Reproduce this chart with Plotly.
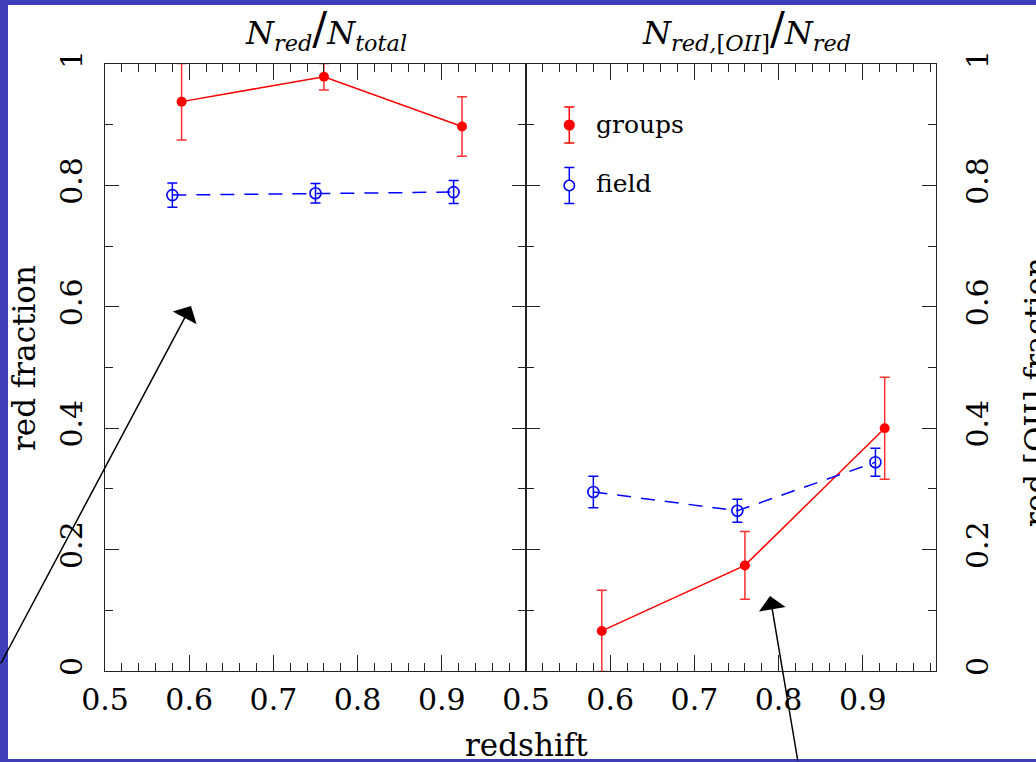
import plotly.graph_objects as go

# ---------------- data ----------------
series_names = ["groups", "field"]

# left panel: N_red / N_total
z_groups_left = [0.591, 0.760, 0.924]
frac_groups_left = [0.938, 0.979, 0.897]
err_groups_left = [0.063, 0.022, 0.049]
z_field_left = [0.580, 0.750, 0.914]
frac_field_left = [0.784, 0.787, 0.789]
err_field_left = [0.020, 0.016, 0.019]

# right panel: N_red,[OII] / N_red
z_groups_right = [0.590, 0.760, 0.926]
frac_groups_right = [0.066, 0.174, 0.400]
err_groups_right = [0.067, 0.056, 0.084]
z_field_right = [0.580, 0.751, 0.915]
frac_field_right = [0.295, 0.264, 0.344]
err_field_right = [0.026, 0.019, 0.023]

x_tick_vals = [0.5, 0.6, 0.7, 0.8, 0.9]
x_tick_text = ["0.5", "0.6", "0.7", "0.8", "0.9"]
y_tick_vals = [0, 0.2, 0.4, 0.6, 0.8, 1]
y_tick_text = ["0", "0.2", "0.4", "0.6", "0.8", "1"]

# ---------------- layout geometry (pixels) ----------------
W, H = 1036, 762
L, R, T, B = 105, 936, 64, 671
MID = 526
PW, PH = R - L, B - T


def px(x):
    return (x - L) / PW


def py(y):
    return (B - y) / PH


FONT = "DejaVu Serif"
RED = "#ff0000"
BLUE = "#0000ff"
AX = "#222222"

fig = go.Figure()


def add_panel(xa, ya, zg, fg, eg, zf, ff, ef):
    fig.add_trace(go.Scatter(
        x=zg, y=fg, xaxis=xa, yaxis=ya, mode="lines+markers", name=series_names[0],
        line=dict(color=RED, width=1.5),
        marker=dict(symbol="circle", size=10, color=RED),
        error_y=dict(type="data", array=eg, color="#ff3030", thickness=1.5, width=5),
        showlegend=False))
    fig.add_trace(go.Scatter(
        x=zf, y=ff, xaxis=xa, yaxis=ya, mode="lines+markers", name=series_names[1],
        line=dict(color=BLUE, width=1.5, dash="14px,10px"),
        marker=dict(symbol="circle-open", size=11, color=BLUE, line=dict(width=1.6, color=BLUE)),
        error_y=dict(type="data", array=ef, color=BLUE, thickness=1.5, width=5),
        showlegend=False))


add_panel("x", "y", z_groups_left, frac_groups_left, err_groups_left,
          z_field_left, frac_field_left, err_field_left)
add_panel("x2", "y2", z_groups_right, frac_groups_right, err_groups_right,
          z_field_right, frac_field_right, err_field_right)

xcommon = dict(
    showline=True, linecolor=AX, linewidth=1.3, mirror="ticks",
    ticks="inside", ticklen=16, tickwidth=1.3, tickcolor=AX,
    tickmode="array", tickvals=x_tick_vals, ticktext=x_tick_text,
    minor=dict(tickmode="linear", tick0=0.5, dtick=0.02, ticks="inside", ticklen=8,
               tickwidth=1.3, tickcolor=AX),
    showgrid=False, zeroline=False,
    tickfont=dict(family=FONT, size=30, color="black"),
    ticklabelstandoff=2,
)
ycommon = dict(
    showline=True, linecolor=AX, linewidth=1.3, mirror="ticks",
    ticks="inside", ticklen=14, tickwidth=1.3, tickcolor=AX,
    tickmode="array", tickvals=y_tick_vals, ticktext=y_tick_text,
    minor=dict(tickmode="linear", tick0=0, dtick=0.1, ticks="inside", ticklen=8,
               tickwidth=1.3, tickcolor=AX),
    showgrid=False, zeroline=False, range=[0, 1], tickangle=-90,
    tickfont=dict(family=FONT, size=30, color="black"),
)

split = (MID - L) / PW
right_max = 0.5 + (R - MID) / ((MID - L) / 0.5)

fig.update_layout(
    width=W, height=H,
    margin=dict(l=L, r=W - R, t=T, b=H - B, pad=0),
    paper_bgcolor="#3e3eb8",
    plot_bgcolor="white",
    font=dict(family=FONT, color="black"),
    xaxis=dict(domain=[0, split], range=[0.5, 1.0], anchor="y", **xcommon),
    xaxis2=dict(domain=[split, 1], range=[0.5, right_max], anchor="y2", **xcommon),
    yaxis=dict(domain=[0, 1], anchor="x", side="left", ticklabelstandoff=10, **ycommon),
    yaxis2=dict(domain=[0, 1], anchor="x2", side="right", ticklabelstandoff=15, **ycommon),
    showlegend=False,
)

shapes = [
    # white slide/figure area over the blue slide background
    dict(type="rect", xref="paper", yref="paper", x0=px(8), x1=px(W + 5), y0=py(759), y1=py(5),
         fillcolor="white", line=dict(width=0), layer="below"),
]

# legend keys (inside right panel)
kx = 569.3
for cy, col, filled in [(125, RED, True), (185.5, BLUE, False)]:
    shapes.append(dict(type="line", xref="paper", yref="paper", x0=px(kx), x1=px(kx),
                       y0=py(cy - 18), y1=py(cy + 18), line=dict(color=col, width=1.5)))
    for yy in (cy - 18, cy + 18):
        shapes.append(dict(type="line", xref="paper", yref="paper", x0=px(kx - 5), x1=px(kx + 5),
                           y0=py(yy), y1=py(yy), line=dict(color=col, width=1.5)))
    r = 4.8 if filled else 5.2
    shapes.append(dict(type="circle", xref="paper", yref="paper", x0=px(kx - r), x1=px(kx + r),
                       y0=py(cy + r), y1=py(cy - r),
                       fillcolor=col if filled else "white", line=dict(color=col, width=1.6)))

fig.update_layout(shapes=shapes)

ann = []
title_font = dict(family=FONT, size=32, color="black")
slash = "<span style='font-size:44px'>/</span>"
ann.append(dict(xref="paper", yref="paper", x=px(326), y=py(29), showarrow=False,
                text="<i>N</i><sub><i>red</i></sub>" + slash + "<i>N</i><sub><i>total</i></sub>",
                font=title_font, xanchor="center", yanchor="middle"))
ann.append(dict(xref="paper", yref="paper", x=px(746), y=py(29), showarrow=False,
                text="<i>N</i><sub><i>red,</i>[<i>OII</i>]</sub>" + slash + "<i>N</i><sub><i>red</i></sub>",
                font=title_font, xanchor="center", yanchor="middle"))
# axis titles
ann.append(dict(xref="paper", yref="paper", x=px(24), y=py(358), showarrow=False, textangle=-90,
                text="red fraction", font=dict(family=FONT, size=31, color="black"),
                xanchor="center", yanchor="middle"))
ann.append(dict(xref="paper", yref="paper", x=px(1036), y=py(392), showarrow=False, textangle=-90,
                text="red [OII] fraction", font=dict(family=FONT, size=31, color="black"),
                xanchor="center", yanchor="middle"))
ann.append(dict(xref="paper", yref="paper", x=px(526), y=py(745), showarrow=False,
                text="redshift", font=dict(family=FONT, size=31, color="black"),
                xanchor="center", yanchor="middle"))
# legend texts
ann.append(dict(xref="paper", yref="paper", x=px(594), y=py(125), showarrow=False,
                text=series_names[0], font=dict(family=FONT, size=25, color="black"),
                xanchor="left", yanchor="middle"))
ann.append(dict(xref="paper", yref="paper", x=px(594), y=py(184), showarrow=False,
                text=series_names[1], font=dict(family=FONT, size=25, color="black"),
                xanchor="left", yanchor="middle"))
# slide arrows
ann.append(dict(xref="paper", yref="paper", x=px(191), y=py(306), ax=-191, ay=359,
                text="", showarrow=True, arrowhead=1, arrowsize=3, arrowwidth=1.5,
                arrowcolor="black", standoff=0))
ann.append(dict(xref="paper", yref="paper", x=px(770), y=py(596), ax=28, ay=169,
                text="", showarrow=True, arrowhead=1, arrowsize=3, arrowwidth=1.5,
                arrowcolor="black", standoff=0))
fig.update_layout(annotations=ann)

fig.write_html("out.html")
